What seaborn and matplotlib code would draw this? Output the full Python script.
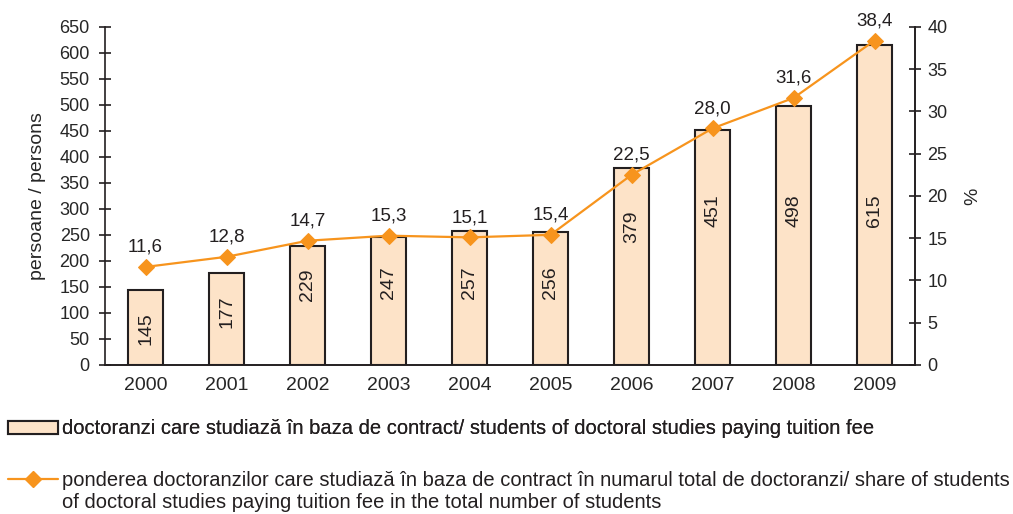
import numpy as np
import matplotlib
matplotlib.use("Agg")
import matplotlib.pyplot as plt
from matplotlib.lines import Line2D
from matplotlib.patches import Patch
import seaborn as sns

years = ["2000", "2001", "2002", "2003", "2004", "2005", "2006", "2007", "2008", "2009"]
students = [145, 177, 229, 247, 257, 256, 379, 451, 498, 615]
share = [11.6, 12.8, 14.7, 15.3, 15.1, 15.4, 22.5, 28.0, 31.6, 38.4]

bar_label = "doctoranzi care studiază în baza de contract/ students of doctoral studies paying tuition fee"
line_label = "ponderea doctoranzilor care studiază în baza de contract în numarul total de doctoranzi/ share of students"
line_label2 = "of doctoral studies paying tuition fee in the total number of students"

sns.set_style("white")
plt.rcParams['font.family'] = ['Liberation Sans', 'DejaVu Sans']
plt.rcParams['font.size'] = 13
plt.rcParams['text.color'] = "#231F20"

bar_color = "#FDE3C8"
edge_color = "#231F20"
line_color = "#F7941D"

fig = plt.figure(figsize=(10.13, 5.14), dpi=100)
ax = fig.add_axes([0.1037, 0.29, 0.7996, 0.6575])

sns.barplot(x=years, y=students, ax=ax, color=bar_color, edgecolor=edge_color,
            linewidth=1.5, width=0.43, saturation=1)
ax.set_xlim(-0.5, 9.5)
ax.set_ylim(0, 650)
ax.set_yticks(range(0, 651, 50))
ax.set_ylabel("persoane / persons", fontsize=14, labelpad=10)
ax.set_xlabel("")

# bar value labels, rotated inside bars (positions roughly as in the source)
for i, v in enumerate(students):
    ypos = min(v - 75, 158 + 0.9 * max(0, v - 260), 297)
    ax.text(i, ypos, str(v), rotation=90, ha="center", va="center", fontsize=14)

ax2 = ax.twinx()
sns.lineplot(x=np.arange(len(years)), y=share, ax=ax2, color=line_color, linewidth=1.6,
             marker="D", markersize=8, markeredgecolor=line_color)
ax2.set_ylim(0, 40)
ax2.set_yticks(range(0, 41, 5))
ax2.set_ylabel("%", fontsize=14, labelpad=12)
for i, v in enumerate(share):
    ax2.annotate(f"{v:.1f}".replace(".", ","), (i, v), xytext=(0, 8), textcoords="offset points",
                 ha="center", va="bottom", fontsize=13.5)

for a in (ax, ax2):
    a.spines["top"].set_visible(False)
    for s in ("left", "right", "bottom"):
        a.spines[s].set_color(edge_color)
        a.spines[s].set_linewidth(1.2)
ax2.spines["left"].set_visible(False)

ax.tick_params(axis="y", direction="inout", length=8, width=1.2, color=edge_color, labelsize=13, pad=7)
ax2.tick_params(axis="y", direction="inout", length=8, width=1.2, color=edge_color, labelsize=13, pad=5)
ax.set_xticks(np.arange(-0.5, 10, 1), minor=True)
ax.tick_params(axis="x", which="major", length=0, labelsize=14, pad=9)
ax.tick_params(axis="x", which="minor", direction="inout", length=8, width=1.2, color=edge_color)

bar_handle = Patch(facecolor=bar_color, edgecolor=edge_color, linewidth=1.5)
line_handle = Line2D([0], [0], color=line_color, linewidth=1.6, marker="D", markersize=8)
leg1 = fig.legend([bar_handle], [bar_label], loc="center left", bbox_to_anchor=(8 / 1013, 1 - 429 / 514),
                  frameon=False, handlelength=2.5, handleheight=0.6, handletextpad=0.2,
                  borderaxespad=0, borderpad=0, fontsize=14.5)
fig.legend([line_handle], [line_label], loc="center left", bbox_to_anchor=(8 / 1013, 1 - 481 / 514),
           frameon=False, handlelength=2.5, handletextpad=0.2,
           borderaxespad=0, borderpad=0, fontsize=14.5)
fig.add_artist(leg1)
fig.text(62 / 1013, 1 - 502 / 514, line_label2, fontsize=14.5, va="center", ha="left")

fig.savefig("out.png", dpi=100)
